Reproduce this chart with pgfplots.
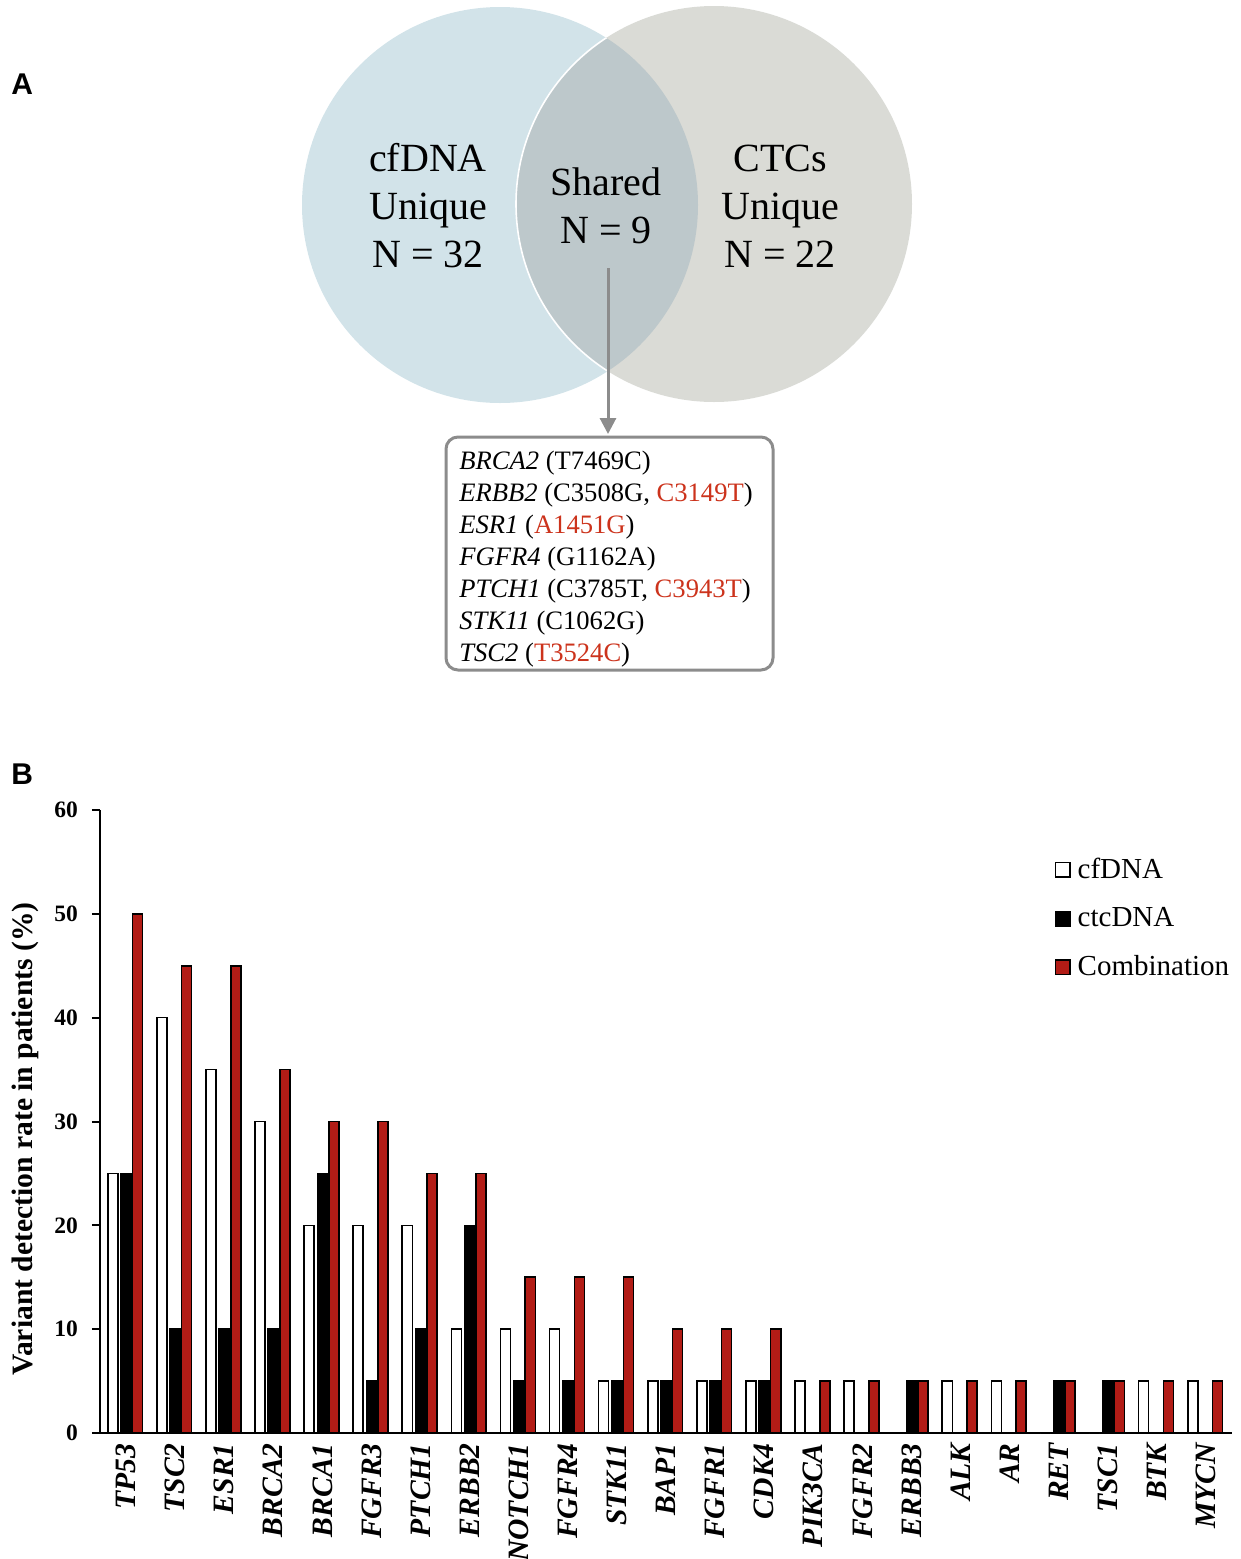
\documentclass[border=0pt]{standalone}
\usepackage{fontspec}
\setmainfont{Liberation Serif}
\newfontfamily\arialfont{Liberation Sans}
\usepackage{pgfplots}
\pgfplotsset{compat=1.18}
\usepackage{pgfplotstable}
\usetikzlibrary{arrows.meta}

\definecolor{cfblue}{RGB}{210,227,233}
\definecolor{ctcgray}{RGB}{218,219,214}
\definecolor{sharedc}{RGB}{189,200,203}
\definecolor{barred}{RGB}{178,28,22}
\definecolor{txtred}{RGB}{204,51,28}
\definecolor{boxgray}{RGB}{140,140,140}

\pgfplotstableread{
x gene cf ctc comb
0 TP53 25 25 50
1 TSC2 40 10 45
2 ESR1 35 10 45
3 BRCA2 30 10 35
4 BRCA1 20 25 30
5 FGFR3 20 5 30
6 PTCH1 20 10 25
7 ERBB2 10 20 25
8 NOTCH1 10 5 15
9 FGFR4 10 5 15
10 STK11 5 5 15
11 BAP1 5 5 10
12 FGFR1 5 5 10
13 CDK4 5 5 10
14 PIK3CA 5 0 5
15 FGFR2 5 0 5
16 ERBB3 0 5 5
17 ALK 5 0 5
18 AR 5 0 5
19 RET 0 5 5
20 TSC1 0 5 5
21 BTK 5 0 5
22 MYCN 5 0 5
}\datatable

\begin{document}
\begin{tikzpicture}[x=0.5pt,y=-0.5pt]
\useasboundingbox (0,0) rectangle (1241,1559);
% ---------- Panel A ----------
\fill[cfblue] (500,205) circle (198);
\fill[ctcgray] (714,204) circle (198);
\begin{scope}
  \clip (500,205) circle (198);
  \fill[sharedc] (714,204) circle (198);
  \draw[white, line width=0.8pt] (714,204) circle (198);
\end{scope}
\begin{scope}[every node/.style={font=\fontsize{20}{24}\selectfont, anchor=base, inner sep=0pt}]
  \node at (428,171) {cfDNA};
  \node at (428,219) {Unique};
  \node at (428,267) {N = 32};
  \node at (606,195) {Shared};
  \node at (606,243) {N = 9};
  \node at (780,171) {CTCs};
  \node at (780,219) {Unique};
  \node at (780,267) {N = 22};
\end{scope}
\draw[boxgray, line width=1.5pt, -{Triangle[length=8pt,width=8pt]}] (608,268) -- (608,434);
\draw[boxgray, line width=1.5pt, rounded corners=6pt] (446,437) rectangle (773,670);
\begin{scope}[every node/.style={font=\fontsize{13.3}{16}\selectfont, anchor=base west, inner sep=0pt}]
  \node at (459,469) {\textit{BRCA2} (T7469C)};
  \node at (459,501) {\textit{ERBB2} (C3508G, \textcolor{txtred}{C3149T})};
  \node at (459,533) {\textit{ESR1} (\textcolor{txtred}{A1451G})};
  \node at (459,565) {\textit{FGFR4} (G1162A)};
  \node at (459,597) {\textit{PTCH1} (C3785T, \textcolor{txtred}{C3943T})};
  \node at (459,629) {\textit{STK11} (C1062G)};
  \node at (459,661) {\textit{TSC2} (\textcolor{txtred}{T3524C})};
\end{scope}
\node[font=\arialfont\bfseries\fontsize{15}{18}\selectfont, anchor=base west, inner sep=0pt] at (11,94) {A};
\node[font=\arialfont\bfseries\fontsize{15}{18}\selectfont, anchor=base west, inner sep=0pt] at (11,784) {B};
% ---------- Panel B ----------
\begin{axis}[
  at={(50pt,-716.5pt)}, anchor=south west,
  scale only axis, width=566pt, height=311.5pt,
  xmin=-0.53, xmax=22.53, ymin=0, ymax=60,
  axis lines=left, axis line style={-, line width=1pt, black},
  ybar, bar width=0.205,
  ytick={0,10,...,60}, ytick pos=left,
  tick align=outside, major tick length=4pt,
  ytick style={line width=1pt, black},
  xtick=data, xtick style={draw=none},
  xticklabels from table={\datatable}{gene},
  xticklabel style={rotate=90, anchor=east, font=\fontsize{14.8}{16}\selectfont\bfseries\itshape, inner sep=1pt},
  yticklabel style={font=\fontsize{11.75}{13}\selectfont\bfseries, xshift=-3.5pt},
  /pgf/number format/assume math mode=true,
  ylabel={Variant detection rate in patients (\%)},
  ylabel style={font=\fontsize{14.8}{16}\selectfont\bfseries, at={(axis description cs:-0.066,0.472)}, anchor=center},
  legend image code/.code={\draw[#1] (0pt,-3.6pt) rectangle (7.2pt,3.6pt); \path (8.7pt,0pt);},
  legend style={at={(axis description cs:0.843,0.93)}, anchor=north west, draw=none, fill=none,
    font=\fontsize{14.5}{16}\selectfont, row sep=9pt, inner sep=0pt,
    nodes={inner sep=2pt}},
  legend cell align=left,
  clip=false,
]
\addplot[draw=black, fill=white, line width=0.8pt, bar shift=-0.27] table[x=x, y=cf] {\datatable};
\addplot[draw=black, fill=black, line width=0.8pt, bar shift=0] table[x=x, y=ctc] {\datatable};
\addplot[draw=black, fill=barred, line width=0.8pt, bar shift=0.235] table[x=x, y=comb] {\datatable};
\legend{cfDNA, ctcDNA, Combination}
\end{axis}
\end{tikzpicture}
\end{document}
